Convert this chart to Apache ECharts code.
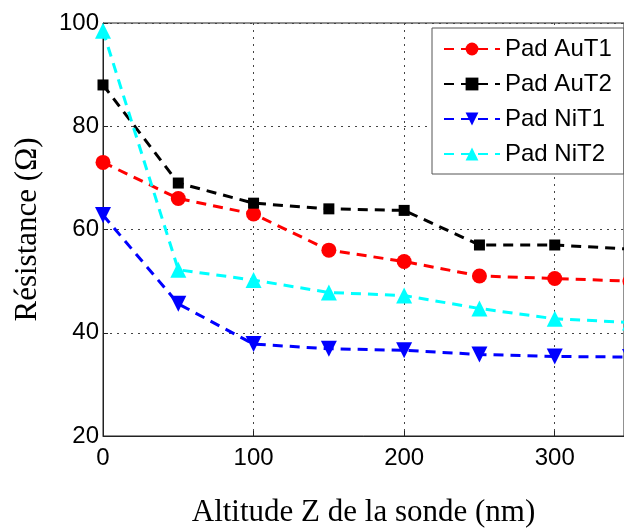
<!DOCTYPE html>
<html>
<head>
<meta charset="utf-8">
<script src="https://cdn.jsdelivr.net/npm/echarts@6/dist/echarts.min.js"></script>
<style>
  html, body { margin: 0; padding: 0; background: #fff; }
  #chart { width: 624px; height: 529px; }
</style>
</head>
<body>
<div id="chart"></div>
<script>
const altitudes = [0, 50, 100, 150, 200, 250, 300, 350]
const padAuT1 = [73, 66, 63, 56, 53.8, 51, 50.5, 50]
const padAuT2 = [88, 69, 65.1, 64, 63.7, 57, 57, 56.2]
const padNiT1 = [62.8, 45.6, 37.8, 36.9, 36.6, 35.8, 35.4, 35.3]
const padNiT2 = [98.5, 52.2, 50.2, 47.8, 47.2, 44.7, 42.7, 42]
const yTicks = [20, 40, 60, 80, 100]

const seriesDefs = [
  { name: 'Pad AuT1', data: padAuT1, color: '#ff0000', symbol: 'circle', size: 15 },
  { name: 'Pad AuT2', data: padAuT2, color: '#000000', symbol: 'rect', size: 11 },
  { name: 'Pad NiT1', data: padNiT1, color: '#0000ff', symbol: 'triangle', size: 16, rotate: 180 },
  { name: 'Pad NiT2', data: padNiT2, color: '#00ffff', symbol: 'triangle', size: 16 }
]

const chart = echarts.init(document.getElementById('chart'))

const tickFont = { fontFamily: 'Liberation Sans', fontSize: 24, color: '#000' }
const titleFont = { fontFamily: 'Liberation Serif', fontSize: 31, color: '#000' }

// the picture is cropped on the right: the axis really runs to 350,
// only about 346 of it is visible
chart.setOption({
  animation: false,
  backgroundColor: '#fff',
  grid: {
    left: 103, top: 23, right: 0, bottom: 93,
    outerBoundsMode: 'none',
    show: true, borderColor: '#222', borderWidth: 1
  },
  legend: {
    left: 432, top: 28, width: 190,
    orient: 'vertical',
    backgroundColor: '#fff',
    borderColor: '#555',
    borderWidth: 1,
    padding: [9, 12, 8, 11],
    itemWidth: 56,
    itemHeight: 16,
    itemGap: 11,
    textStyle: { fontFamily: 'Liberation Sans', fontSize: 24, color: '#000', lineHeight: 24 },
    data: seriesDefs.map(s => s.name)
  },
  xAxis: {
    type: 'value',
    min: 0, max: 346, interval: 100,
    name: 'Altitude Z de la sonde (nm)',
    nameLocation: 'middle',
    nameGap: 61,
    nameTextStyle: titleFont,
    axisLine: { show: true, lineStyle: { color: '#222', width: 1 } },
    axisTick: { show: true, inside: true, length: 5, lineStyle: { color: '#222' } },
    axisLabel: Object.assign({ margin: 10, showMaxLabel: false }, tickFont),
    splitLine: { show: true, lineStyle: { color: '#444', type: [2, 5], width: 1 } }
  },
  yAxis: {
    type: 'value',
    min: yTicks[0], max: yTicks[yTicks.length - 1], interval: 20,
    name: 'Résistance (Ω)',
    nameLocation: 'middle',
    nameGap: 60,
    nameTextStyle: titleFont,
    axisLine: { show: true, lineStyle: { color: '#222', width: 1 } },
    axisTick: { show: true, inside: true, length: 5, lineStyle: { color: '#222' } },
    axisLabel: Object.assign({ margin: 4 }, tickFont),
    splitLine: { show: true, lineStyle: { color: '#444', type: [2, 5], width: 1 } }
  },
  series: seriesDefs.map(s => ({
    name: s.name,
    type: 'line',
    data: altitudes.map((x, i) => [x, s.data[i]]),
    symbol: s.symbol,
    symbolSize: s.size,
    symbolRotate: s.rotate || 0,
    showAllSymbol: true,
    clip: false,
    color: s.color,
    itemStyle: { color: s.color },
    lineStyle: { color: s.color, width: 3, type: [10, 7] },
    z: 3
  }))
})
</script>
</body>
</html>
